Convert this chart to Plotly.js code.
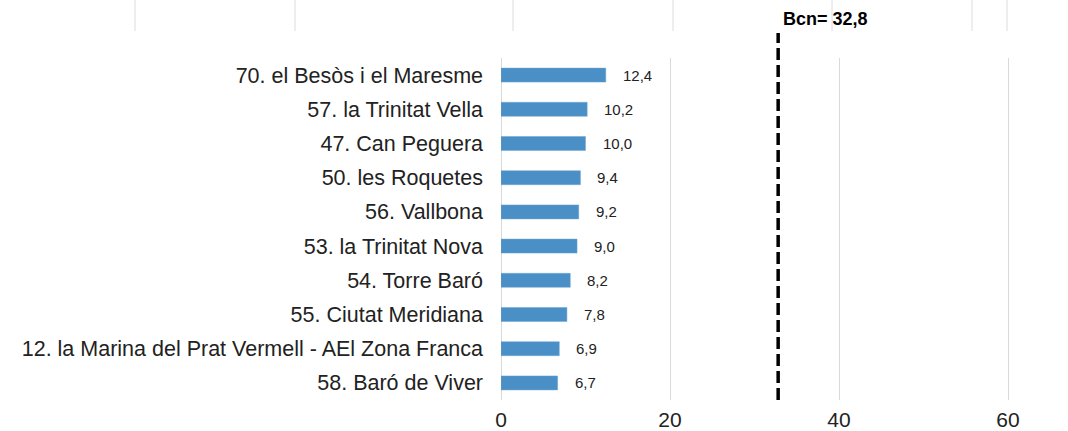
<!DOCTYPE html>
<html>
<head>
<meta charset="utf-8">
<script src="https://cdn.plot.ly/plotly-3.0.1.min.js"></script>
<style>html,body{margin:0;padding:0;background:#fff;}#chart{width:1068px;height:431px;}</style>
</head>
<body>
<div id="chart"></div>
<script>
const categories = [
  "70. el Besòs i el Maresme",
  "57. la Trinitat Vella",
  "47. Can Peguera",
  "50. les Roquetes",
  "56. Vallbona",
  "53. la Trinitat Nova",
  "54. Torre Baró",
  "55. Ciutat Meridiana",
  "12. la Marina del Prat Vermell - AEl Zona Franca",
  "58. Baró de Viver"
];
const values = [12.4, 10.2, 10.0, 9.4, 9.2, 9.0, 8.2, 7.8, 6.9, 6.7];
const bcnValue = 32.8;
const bcnLabel = "Bcn= 32,8";
const xTicks = [0, 20, 40, 60];

const fmt = v => v.toFixed(1).replace('.', ',');
const FONT = 'Arial, "Liberation Sans", sans-serif';

const W = 1068, H = 431;
const marginL = 501, marginR = 8, marginT = 58, marginB = 31;
const plotW = W - marginL - marginR;
const plotH = H - marginT - marginB;
const pxPerUnit = 507 / 60;
const xMax = plotW / pxPerUnit;

const trace = {
  type: 'bar',
  orientation: 'h',
  x: values,
  y: categories,
  marker: {color: '#4A8FC6', line: {color: '#6FA6D2', width: 0.5}},
  hoverinfo: 'skip'
};

const annotations = values.map((v, i) => ({
  x: v, y: categories[i], xref: 'x', yref: 'y',
  text: fmt(v), showarrow: false, xanchor: 'left', xshift: 15,
  font: {family: FONT, size: 15, color: '#222'}
}));
annotations.push({
  x: bcnValue, xref: 'x', y: (H - 19 - marginB) / plotH, yref: 'paper',
  text: '<b>' + bcnLabel + '</b>', showarrow: false, xanchor: 'left', yanchor: 'middle', xshift: 3,
  font: {family: FONT, size: 18, color: '#000'}
});

// faint vertical lines in top strip of the reference
const topStripX = [135, 295, 513, 673, 832, 972, 1007];
const shapes = topStripX.map(px => ({
  type: 'line', xref: 'paper', yref: 'paper',
  x0: (px - marginL) / plotW, x1: (px - marginL) / plotW,
  y0: (H - 31 - marginB) / plotH, y1: (H - marginB) / plotH,
  line: {color: '#dcdcdc', width: 1}
}));
shapes.push({
  type: 'line', xref: 'x', yref: 'paper',
  x0: bcnValue, x1: bcnValue,
  y0: 0, y1: (H - 33 - marginB) / plotH,
  line: {color: '#000', width: 3.5, dash: '12px,5px'}
});

const layout = {
  width: W, height: H,
  margin: {l: marginL, r: marginR, t: marginT, b: marginB, pad: 0},
  paper_bgcolor: '#fff', plot_bgcolor: '#fff',
  showlegend: false,
  bargap: 0.59,
  xaxis: {
    range: [0, xMax], tickvals: xTicks, ticktext: xTicks.map(String),
    showgrid: true, gridcolor: '#d9d9d9', gridwidth: 1,
    zeroline: true, zerolinecolor: '#d9d9d9', zerolinewidth: 1,
    showline: false, ticks: '',
    ticklabelstandoff: 5,
    tickfont: {family: FONT, size: 21, color: '#222'},
    fixedrange: true
  },
  yaxis: {
    autorange: 'reversed', type: 'category',
    showgrid: false, zeroline: false, showline: false, ticks: '',
    ticklabelstandoff: 17,
    tickfont: {family: FONT, size: 21.5, color: '#222'},
    fixedrange: true
  },
  annotations: annotations,
  shapes: shapes
};

Plotly.newPlot('chart', [trace], layout, {displayModeBar: false, staticPlot: true});
</script>
</body>
</html>
